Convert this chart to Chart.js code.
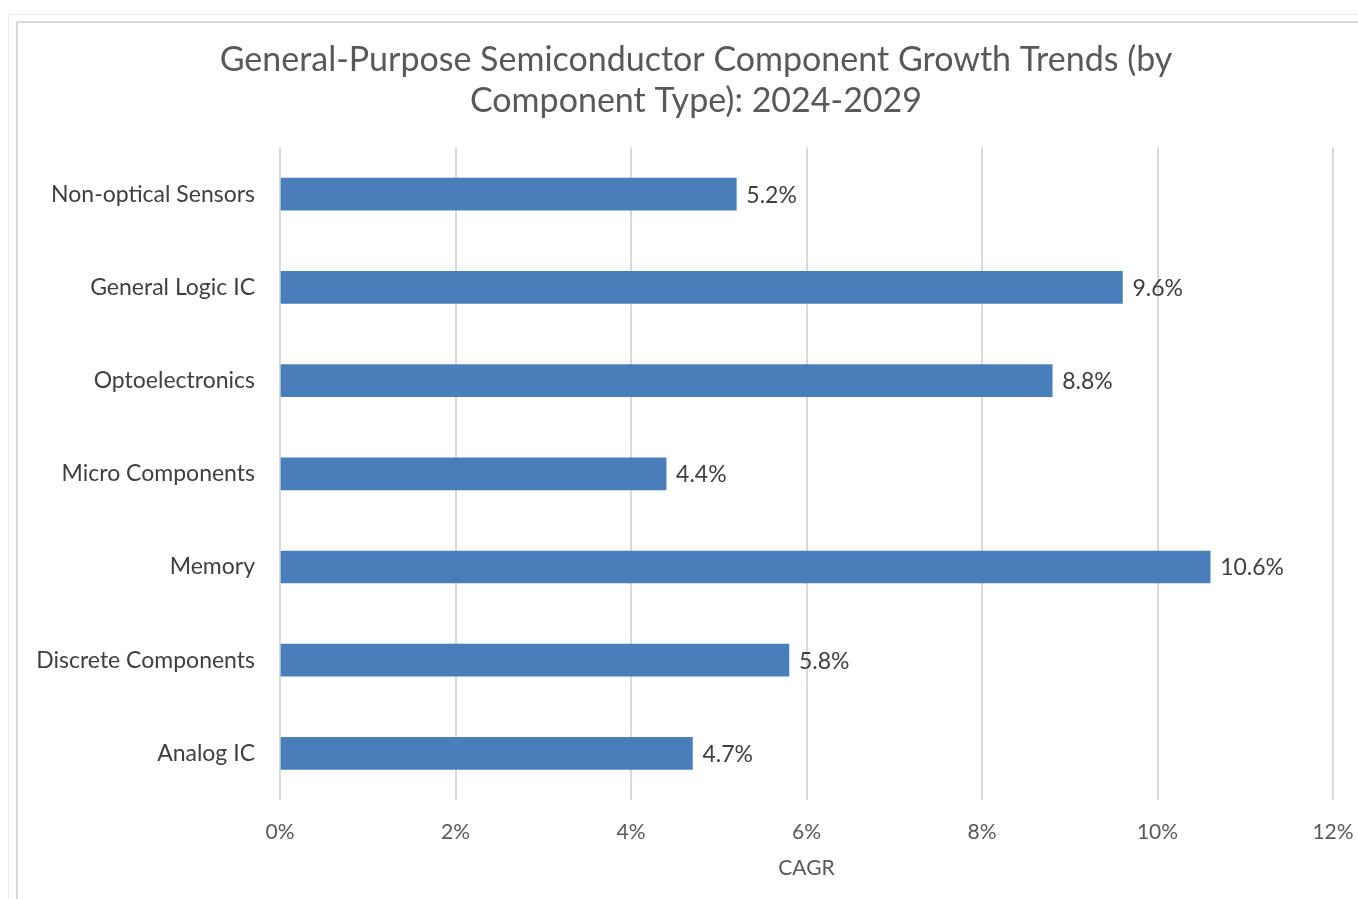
<!DOCTYPE html>
<html>
<head>
<meta charset="utf-8">
<script src="https://cdn.jsdelivr.net/npm/chart.js@4"></script>
<style>
  html, body { margin:0; padding:0; background:#fff; overflow:hidden; }
  #outer { position:absolute; left:8px; top:14px; width:1400px; height:900px; border:1px solid #ececec; }
  #box { position:absolute; left:16px; top:21px; width:1360px; height:900px; border-left:2px solid #d9d9d9; border-top:2px solid #d9d9d9; box-sizing:border-box; }
  #wrap { position:absolute; left:16px; top:21px; width:1360px; height:878px; }
</style>
</head>
<body>
<div id="outer"></div>
<div id="box"></div>
<div id="wrap"><canvas id="chart"></canvas></div>
<script>
const categories = [
  "Non-optical Sensors",
  "General Logic IC",
  "Optoelectronics",
  "Micro Components",
  "Memory",
  "Discrete Components",
  "Analog IC"
];
const cagr = [5.2, 9.6, 8.8, 4.4, 10.6, 5.8, 4.7];
const titleLines = ["General-Purpose Semiconductor Component Growth Trends (by", "Component Type): 2024-2029"];
const axisTitle = "CAGR";

const FONT = "Lato, 'Open Sans', sans-serif";

// value labels at the end of each bar
const barLabels = {
  id: "barLabels",
  afterDatasetsDraw(chart){
    const ctx = chart.ctx;
    const meta = chart.getDatasetMeta(0);
    ctx.save();
    ctx.font = `23px ${FONT}`;
    ctx.fillStyle = "#404040";
    ctx.textAlign = "left";
    ctx.textBaseline = "middle";
    meta.data.forEach((bar, i) => {
      ctx.fillText(cagr[i].toFixed(1) + "%", bar.x + 10, bar.y + 1);
    });
    ctx.restore();
  }
};

new Chart(document.getElementById("chart"), {
  type: "bar",
  data: {
    labels: categories,
    datasets: [{
      data: cagr,
      backgroundColor: "#4a7ebb",
      borderWidth: 0,
      barThickness: 32
    }]
  },
  plugins: [barLabels],
  options: {
    indexAxis: "y",
    responsive: true,
    maintainAspectRatio: false,
    animation: false,
    layout: { padding: 0 },
    plugins: {
      legend: { display: false },
      tooltip: { enabled: false },
      title: {
        display: true,
        text: titleLines,
        color: "#595959",
        font: { family: FONT, size: 34, weight: "normal", lineHeight: 1.2 },
        padding: { top: 19, bottom: 26 }
      }
    },
    scales: {
      x: {
        min: 0,
        max: 12,
        ticks: {
          stepSize: 2,
          color: "#595959",
          font: { family: FONT, size: 21 },
          padding: 20,
          callback: (v) => v + "%"
        },
        grid: { color: "#d9d9d9", lineWidth: 2, drawTicks: false },
        border: { display: false },
        title: {
          display: true,
          text: axisTitle,
          color: "#595959",
          font: { family: FONT, size: 21 },
          padding: { top: 0, bottom: 18 }
        },
        afterFit(scale){
          scale.height = 99;
          // room on the right of the plot for the last tick label
          scale.paddingRight = 43;
        }
      },
      y: {
        ticks: {
          color: "#404040",
          font: { family: FONT, size: 23 },
          padding: 17
        },
        grid: { display: false },
        border: { display: false },
        afterFit(scale){ scale.width = 264; }
      }
    }
  }
});
</script>
</body>
</html>
